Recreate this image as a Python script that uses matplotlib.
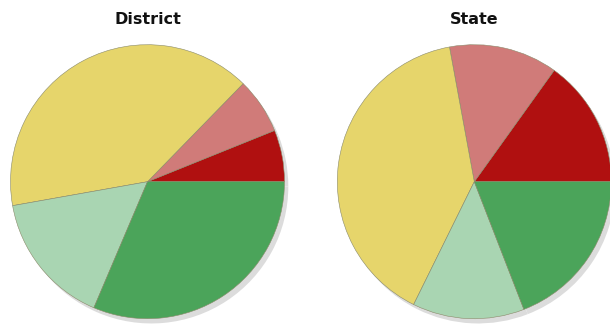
import matplotlib
matplotlib.use('Agg')
import matplotlib.pyplot as plt

# valors llegits del grafic (percentatge de cada categoria, sentit antihorari des de les 3h)
titles = ["District", "State"]
district_vals = [6.1, 6.6, 40.1, 15.8, 31.4]
state_vals = [15.1, 12.8, 39.8, 13.2, 19.1]
colors = ["#b01010", "#d07b79", "#e6d56b", "#a9d5b2", "#4ba45a"]

W, H = 610, 324
R = 137
centers = [(147.5, 181.7), (474.3, 181.7)]

fig = plt.figure(figsize=(W / 100, H / 100), dpi=100)
fig.patch.set_facecolor('white')

for title, vals, (cx, cy) in zip(titles, [district_vals, state_vals], centers):
    ax = fig.add_axes([(cx - R) / W, (H - cy - R) / H, 2 * R / W, 2 * R / H])
    ax.pie(vals, colors=colors, startangle=0, counterclock=True, radius=1,
           wedgeprops={'edgecolor': '#8a8a6a', 'linewidth': 0.4},
           shadow={'ox': 0.02, 'oy': -0.025, 'facecolor': '#dcdcdc',
                   'edgecolor': 'none', 'alpha': 1})
    ax.set_xlim(-1, 1)
    ax.set_ylim(-1, 1)
    ax.set_aspect('auto')
    ax.axis('off')
    for p in ax.patches:
        p.set_clip_on(False)
    fig.text(cx / W, 1 - 19 / H, title, ha='center', va='center',
             fontsize=11.5, fontweight='bold', color='#111111')

fig.savefig('out.png', dpi=100)
